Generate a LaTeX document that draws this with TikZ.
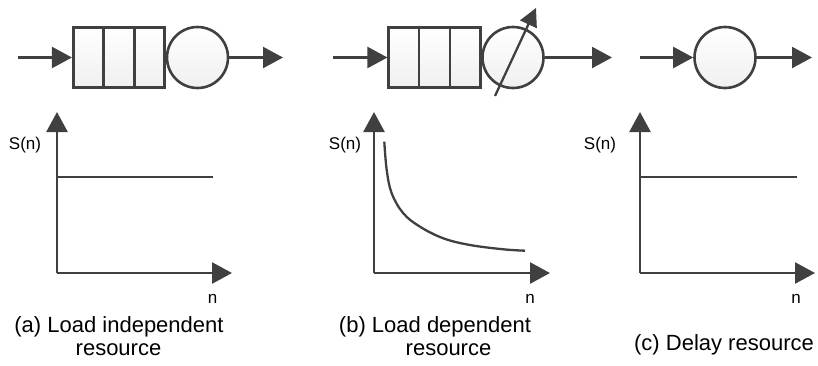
\documentclass[tikz,border=0pt]{standalone}
\usepackage{fontspec}
\setmainfont{Liberation Sans}
\usetikzlibrary{arrows.meta,calc}
\definecolor{ink}{HTML}{404040}
\begin{document}
\begin{tikzpicture}[x=1pt,y=-1pt,
  inkline/.style={draw=ink, line width=2.3pt},
  arrline/.style={inkline, -{Triangle[length=20pt,width=21pt]}},
  axisline/.style={draw=ink, line width=2.6pt, -{Triangle[length=20pt,width=21pt]}},
  qbox/.style={draw=ink, line width=2.6pt, rectangle, top color=white, bottom color=gray!12,
    minimum width=91.5pt, minimum height=60.5pt, inner sep=0pt},
  srv/.style={draw=ink, line width=2.6pt, circle, top color=white, bottom color=gray!12,
    minimum size=61pt, inner sep=0pt},
  axlabel/.style={font=\fontsize{17}{20}\selectfont, inner sep=0pt, anchor=base},
  captext/.style={font=\fontsize{22}{24}\selectfont, inner sep=0pt, anchor=base},
]
\useasboundingbox (0,0) rectangle (818,365);

% ---------- (a) queue ----------
\node[qbox] (qa) at (119,57.5) {};
\draw[inkline, line width=2.6pt] ($(qa.north west)!1/3!(qa.north east)$) -- ($(qa.south west)!1/3!(qa.south east)$);
\draw[inkline, line width=2.6pt] ($(qa.north west)!2/3!(qa.north east)$) -- ($(qa.south west)!2/3!(qa.south east)$);
\node[srv] (sa) at (197.5,57.5) {};
\coordinate (ina) at (18,57.5);
\coordinate (outa) at (283,57.5);
\draw[arrline] (ina) -- (qa.west);
\draw[arrline] (sa.east) -- (outa);

% ---------- (b) queue ----------
\node[qbox] (qb) at (434.5,57.5) {};
\draw[inkline, line width=2.6pt] ($(qb.north west)!1/3!(qb.north east)$) -- ($(qb.south west)!1/3!(qb.south east)$);
\draw[inkline, line width=2.6pt] ($(qb.north west)!2/3!(qb.north east)$) -- ($(qb.south west)!2/3!(qb.south east)$);
\node[srv] (sb) at (513,57.5) {};
\coordinate (inb) at (333,57.5);
\coordinate (outb) at (612,57.5);
\draw[arrline] (inb) -- (qb.west);
\draw[arrline] (sb.east) -- (outb);
\coordinate (vs) at (495,96);
\coordinate (ve) at (536,8);
\draw[inkline, -{Triangle[length=18pt,width=18pt]}] (vs) -- (ve);

% ---------- (c) delay ----------
\node[srv] (sc) at (725,57.5) {};
\coordinate (inc) at (640,57.5);
\coordinate (outc) at (812,57.5);
\draw[arrline] (inc) -- (sc.west);
\draw[arrline] (sc.east) -- (outc);

% ---------- (a) graph ----------
\coordinate (oa) at (57,273);
\coordinate (ya) at (57,112);
\coordinate (xa) at (232,273);
\draw[axisline] (oa) -- (ya);
\draw[axisline] (oa) -- (xa);
\coordinate (ha1) at (57,177);
\coordinate (ha2) at (213,177);
\draw[inkline] (ha1) -- (ha2);
\node[axlabel] (sna) at (25,149) {S(n)};
\node[axlabel] (na) at (212.5,303) {n};
\node[captext] (ca1) at (119,332) {(a) Load independent};
\node[captext] (ca2) at (118.5,355) {resource};

% ---------- (b) graph ----------
\coordinate (ob) at (374,273);
\coordinate (yb) at (374,112);
\coordinate (xb) at (550,273);
\draw[axisline] (ob) -- (yb);
\draw[axisline] (ob) -- (xb);
\draw[inkline] plot[smooth, tension=0.6] coordinates {(384.3,141.7) (386.7,170) (391.7,193.3) (403.3,213.3) (420,226.7) (443.3,238.3) (470,245) (503.3,249.3) (525,250.7)};
\node[axlabel] (snb) at (345,149) {S(n)};
\node[axlabel] (nb) at (530,303) {n};
\node[captext] (cb1) at (435,332) {(b) Load dependent};
\node[captext] (cb2) at (448.5,355) {resource};

% ---------- (c) graph ----------
\coordinate (oc) at (640,273);
\coordinate (yc) at (640,112);
\coordinate (xc) at (815,273);
\draw[axisline] (oc) -- (yc);
\draw[axisline] (oc) -- (xc);
\coordinate (hc1) at (640,177);
\coordinate (hc2) at (797,177);
\draw[inkline] (hc1) -- (hc2);
\node[axlabel] (snc) at (600,149) {S(n)};
\node[axlabel] (nc) at (796,303) {n};
\node[captext] (cc) at (724,350) {(c) Delay resource};
\end{tikzpicture}
\end{document}
